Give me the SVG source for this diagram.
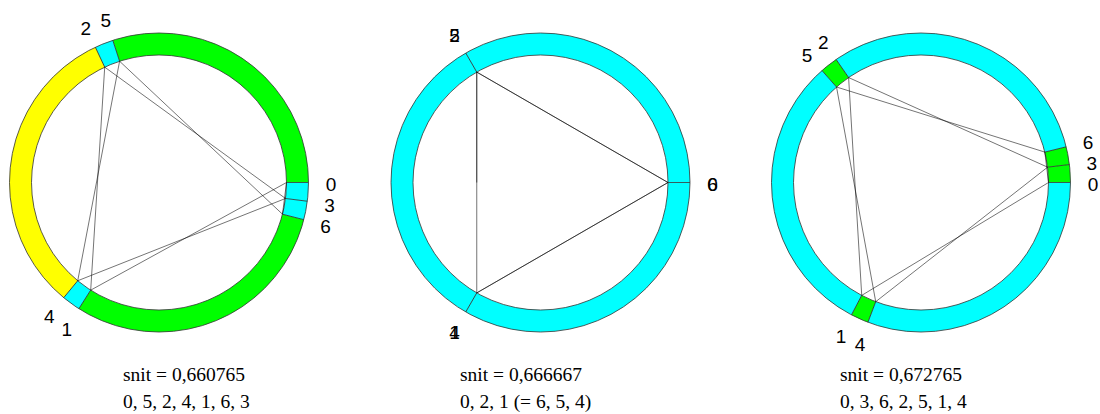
<svg xmlns="http://www.w3.org/2000/svg" width="1100" height="414" viewBox="0 0 1100 414">
<style>
.seg{fill:none;stroke-width:22}
.cy{stroke:#00ffff}.gr{stroke:#00ff00}.ye{stroke:#ffff00}
.ol{fill:none;stroke:#333;stroke-width:0.8}
.bd{stroke:#333;stroke-width:0.8}
.ch{stroke:#000;stroke-width:0.55;fill:none}
.lb{font-family:"Liberation Sans",Arial,sans-serif;font-size:19px;text-anchor:middle;fill:#000}
.cap{font-family:"Liberation Serif","Times New Roman",serif;font-size:19.5px;fill:#000}
</style>
<rect width="1100" height="414" fill="#fff"/>

<!-- Diagram 1 -->
<g id="ring1" transform="translate(159 182.5)">
  <circle class="seg gr" r="138.5" pathLength="360" stroke-dasharray="108 360" transform="rotate(-108)"/>
  <circle class="seg cy" r="138.5" pathLength="360" stroke-dasharray="7.2 360" transform="rotate(-115.2)"/>
  <circle class="seg ye" r="138.5" pathLength="360" stroke-dasharray="115.2 360" transform="rotate(-230.4)"/>
  <circle class="seg cy" r="138.5" pathLength="360" stroke-dasharray="7.2 360" transform="rotate(-237.6)"/>
  <circle class="seg gr" r="138.5" pathLength="360" stroke-dasharray="108 360" transform="rotate(-345.6)"/>
  <circle class="seg cy" r="138.5" pathLength="360" stroke-dasharray="7.2 360" transform="rotate(-352.8)"/>
  <circle class="seg cy" r="138.5" pathLength="360" stroke-dasharray="7.2 360" transform="rotate(-360)"/>
  <circle class="ol" r="149.5"/>
  <circle class="ol" r="127.5"/>
  <line class="bd" x1="127.5" x2="149.5" y1="0" y2="0" transform="rotate(0)"/>
  <line class="bd" x1="127.5" x2="149.5" y1="0" y2="0" transform="rotate(-108)"/>
  <line class="bd" x1="127.5" x2="149.5" y1="0" y2="0" transform="rotate(-115.2)"/>
  <line class="bd" x1="127.5" x2="149.5" y1="0" y2="0" transform="rotate(-230.4)"/>
  <line class="bd" x1="127.5" x2="149.5" y1="0" y2="0" transform="rotate(-237.6)"/>
  <line class="bd" x1="127.5" x2="149.5" y1="0" y2="0" transform="rotate(-345.6)"/>
  <line class="bd" x1="127.5" x2="149.5" y1="0" y2="0" transform="rotate(-352.8)"/>
</g>
<g id="chords1" transform="translate(159 182.5)">
  <line class="ch" x1="127.5" y1="0" x2="-68.31" y2="107.65"/>
  <line class="ch" x1="-68.31" y1="107.65" x2="-54.29" y2="-115.36"/>
  <line class="ch" x1="-54.29" y1="-115.36" x2="126.49" y2="15.98"/>
  <line class="ch" x1="126.49" y1="15.98" x2="-81.27" y2="98.24"/>
  <line class="ch" x1="-81.27" y1="98.24" x2="-39.40" y2="-121.26"/>
  <line class="ch" x1="-39.40" y1="-121.26" x2="123.49" y2="31.71"/>
  <line class="ch" x1="123.49" y1="31.71" x2="127.5" y2="0"/>
</g>
<g id="labels1" transform="translate(159 182.5)">
  <g transform="rotate(0) translate(172 0) rotate(0)"><text class="lb" y="8">0</text></g>
  <g transform="rotate(-237.6) translate(172 0) rotate(237.6)"><text class="lb" y="8">1</text></g>
  <g transform="rotate(-115.2) translate(172 0) rotate(115.2)"><text class="lb" y="8">2</text></g>
  <g transform="rotate(-352.8) translate(172 0) rotate(352.8)"><text class="lb" y="8">3</text></g>
  <g transform="rotate(-230.4) translate(172 0) rotate(230.4)"><text class="lb" y="8">4</text></g>
  <g transform="rotate(-108) translate(172 0) rotate(108)"><text class="lb" y="8">5</text></g>
  <g transform="rotate(-345.6) translate(172 0) rotate(345.6)"><text class="lb" y="8">6</text></g>
</g>
<g id="caption1">
  <text class="cap" x="123" y="381">snit = 0,660765</text>
  <text class="cap" x="123" y="408">0, 5, 2, 4, 1, 6, 3</text>
</g>

<!-- Diagram 2 -->
<g id="ring2" transform="translate(540.5 182.5)">
  <circle class="seg cy" r="138.5" pathLength="360" stroke-dasharray="120 360" transform="rotate(-120)"/>
  <circle class="seg cy" r="138.5" pathLength="360" stroke-dasharray="120 360" transform="rotate(-240)"/>
  <circle class="seg cy" r="138.5" pathLength="360" stroke-dasharray="120 360" transform="rotate(-360)"/>
  <circle class="ol" r="149.5"/>
  <circle class="ol" r="127.5"/>
  <line class="bd" x1="127.5" x2="149.5" y1="0" y2="0" stroke-width="1.6"/>
  <line class="bd" x1="127.5" x2="149.5" y1="0" y2="0" transform="rotate(-120)"/>
  <line class="bd" x1="127.5" x2="149.5" y1="0" y2="0" transform="rotate(-240)"/>
</g>
<g id="chords2" transform="translate(540.5 182.5)">
  <line class="ch" x1="127.5" y1="0" x2="-63.75" y2="110.42"/>
  <line class="ch" x1="-63.75" y1="110.42" x2="-63.75" y2="-110.42"/>
  <line class="ch" x1="-63.75" y1="-110.42" x2="127.5" y2="0"/>
  <line class="ch" x1="127.5" y1="0" x2="-63.75" y2="110.42"/>
  <line class="ch" x1="-63.75" y1="0" x2="-63.75" y2="-110.42"/>
  <line class="ch" x1="-63.75" y1="-110.42" x2="127.5" y2="0"/>
</g>
<g id="labels2" transform="translate(540.5 182.5)">
  <g transform="translate(172 0)"><text class="lb" y="8">0</text><text class="lb" y="8">6</text></g>
  <g transform="rotate(-120) translate(172 0) rotate(120)"><text class="lb" y="8">2</text><text class="lb" y="8">5</text></g>
  <g transform="rotate(-240) translate(172 0) rotate(240)"><text class="lb" y="8">1</text><text class="lb" y="8">4</text></g>
</g>
<g id="caption2">
  <text class="cap" x="460" y="381">snit = 0,666667</text>
  <text class="cap" x="460" y="408">0, 2, 1 (= 6, 5, 4)</text>
</g>

<!-- Diagram 3 -->
<g id="ring3" transform="translate(921 182.5)">
  <circle class="seg gr" r="138.5" pathLength="360" stroke-dasharray="6.9 360" transform="rotate(-6.9)"/>
  <circle class="seg gr" r="138.5" pathLength="360" stroke-dasharray="6.9 360" transform="rotate(-13.8)"/>
  <circle class="seg cy" r="138.5" pathLength="360" stroke-dasharray="110.8 360" transform="rotate(-124.6)"/>
  <circle class="seg gr" r="138.5" pathLength="360" stroke-dasharray="6.9 360" transform="rotate(-131.5)"/>
  <circle class="seg cy" r="138.5" pathLength="360" stroke-dasharray="110.8 360" transform="rotate(-242.3)"/>
  <circle class="seg gr" r="138.5" pathLength="360" stroke-dasharray="6.9 360" transform="rotate(-249.2)"/>
  <circle class="seg cy" r="138.5" pathLength="360" stroke-dasharray="110.8 360" transform="rotate(-360)"/>
  <circle class="ol" r="149.5"/>
  <circle class="ol" r="127.5"/>
  <line class="bd" x1="127.5" x2="149.5" y1="0" y2="0"/>
  <line class="bd" x1="127.5" x2="149.5" y1="0" y2="0" transform="rotate(-6.9)"/>
  <line class="bd" x1="127.5" x2="149.5" y1="0" y2="0" transform="rotate(-13.8)"/>
  <line class="bd" x1="127.5" x2="149.5" y1="0" y2="0" transform="rotate(-124.6)"/>
  <line class="bd" x1="127.5" x2="149.5" y1="0" y2="0" transform="rotate(-131.5)"/>
  <line class="bd" x1="127.5" x2="149.5" y1="0" y2="0" transform="rotate(-242.3)"/>
  <line class="bd" x1="127.5" x2="149.5" y1="0" y2="0" transform="rotate(-249.2)"/>
</g>
<g id="chords3" transform="translate(921 182.5)">
  <line class="ch" x1="127.5" y1="0" x2="-59.27" y2="112.89"/>
  <line class="ch" x1="-59.27" y1="112.89" x2="-72.40" y2="-104.95"/>
  <line class="ch" x1="-72.40" y1="-104.95" x2="126.58" y2="-15.32"/>
  <line class="ch" x1="126.58" y1="-15.32" x2="-45.28" y2="119.19"/>
  <line class="ch" x1="-45.28" y1="119.19" x2="-84.48" y2="-95.49"/>
  <line class="ch" x1="-84.48" y1="-95.49" x2="123.82" y2="-30.41"/>
  <line class="ch" x1="123.82" y1="-30.41" x2="127.5" y2="0"/>
</g>
<g id="labels3" transform="translate(921 182.5)">
  <g transform="translate(172 0)"><text class="lb" y="8">0</text></g>
  <g transform="rotate(-242.3) translate(172 0) rotate(242.3)"><text class="lb" y="8">1</text></g>
  <g transform="rotate(-124.6) translate(172 0) rotate(124.6)"><text class="lb" y="8">2</text></g>
  <g transform="rotate(-6.9) translate(172 0) rotate(6.9)"><text class="lb" y="8">3</text></g>
  <g transform="rotate(-249.2) translate(172 0) rotate(249.2)"><text class="lb" y="8">4</text></g>
  <g transform="rotate(-131.5) translate(172 0) rotate(131.5)"><text class="lb" y="8">5</text></g>
  <g transform="rotate(-13.8) translate(172 0) rotate(13.8)"><text class="lb" y="8">6</text></g>
</g>
<g id="caption3">
  <text class="cap" x="840" y="381">snit = 0,672765</text>
  <text class="cap" x="840" y="408">0, 3, 6, 2, 5, 1, 4</text>
</g>
</svg>
